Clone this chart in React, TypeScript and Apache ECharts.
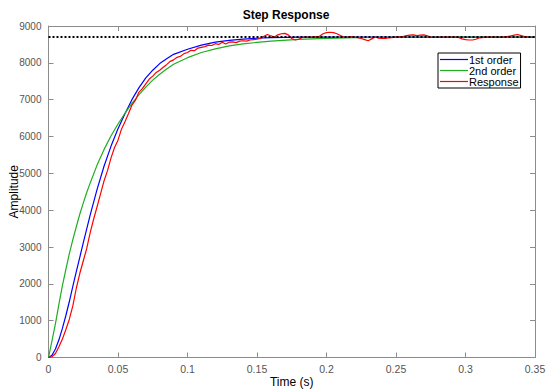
import React, { useEffect, useRef } from "react";
import * as echarts from "echarts";

const modelTime = [0, 0.0025, 0.005, 0.0075, 0.01, 0.0125, 0.015, 0.0175, 0.02, 0.0225, 0.025, 0.0275, 0.03, 0.035, 0.04, 0.045, 0.05, 0.055, 0.06, 0.065, 0.07, 0.075, 0.08, 0.085, 0.09, 0.1, 0.11, 0.12, 0.13, 0.14, 0.15, 0.16, 0.18, 0.2, 0.22, 0.25, 0.3, 0.35];
const firstOrder = [0, 60, 230, 480, 790, 1140, 1520, 1930, 2330, 2720, 3110, 3490, 3870, 4570, 5200, 5740, 6210, 6620, 7000, 7320, 7590, 7800, 7980, 8110, 8230, 8370, 8480, 8560, 8610, 8645, 8668, 8682, 8696, 8700, 8700, 8700, 8700, 8700];
const secondOrder = [0, 450, 920, 1450, 1950, 2390, 2820, 3200, 3550, 3890, 4190, 4480, 4740, 5230, 5650, 6020, 6340, 6630, 6900, 7130, 7340, 7530, 7690, 7830, 7960, 8140, 8280, 8380, 8460, 8515, 8555, 8590, 8635, 8665, 8682, 8694, 8699, 8700];

const respTime = [0, 0.0025, 0.005, 0.0075, 0.01, 0.0125, 0.015, 0.0175, 0.02, 0.0225, 0.025, 0.0275, 0.03, 0.0325, 0.035, 0.0375, 0.04, 0.0425, 0.045, 0.0475, 0.05, 0.0525, 0.055, 0.0575, 0.06, 0.0625, 0.065, 0.0675, 0.07, 0.0725, 0.075, 0.0775, 0.08, 0.0825, 0.085, 0.0875, 0.09, 0.0925, 0.095, 0.0975, 0.1, 0.1025, 0.105, 0.1075, 0.11, 0.1125, 0.115, 0.1175, 0.12, 0.1225, 0.125, 0.1275, 0.13, 0.1325, 0.135, 0.1375, 0.14, 0.1425, 0.145, 0.1475, 0.15, 0.1525, 0.155, 0.1575, 0.16, 0.1625, 0.165, 0.1675, 0.17, 0.1725, 0.175, 0.1775, 0.18, 0.1825, 0.185, 0.19, 0.195, 0.1975, 0.2, 0.2025, 0.205, 0.2075, 0.21, 0.2125, 0.215, 0.2175, 0.22, 0.2225, 0.225, 0.2275, 0.23, 0.2325, 0.235, 0.2375, 0.24, 0.2425, 0.245, 0.25, 0.255, 0.2575, 0.26, 0.2625, 0.265, 0.2675, 0.27, 0.2725, 0.275, 0.28, 0.285, 0.29, 0.295, 0.2975, 0.3, 0.3025, 0.305, 0.3075, 0.31, 0.315, 0.32, 0.325, 0.33, 0.335, 0.3375, 0.34, 0.3425, 0.345, 0.35];
const respValue = [0, 20, 110, 290, 500, 760, 1040, 1400, 1880, 2280, 2620, 2960, 3390, 3760, 4100, 4450, 4800, 5080, 5420, 5700, 5900, 6200, 6400, 6620, 6850, 6980, 7200, 7300, 7430, 7560, 7640, 7740, 7800, 7880, 7950, 8040, 8080, 8150, 8180, 8250, 8280, 8340, 8330, 8400, 8420, 8440, 8480, 8470, 8520, 8500, 8560, 8510, 8560, 8570, 8550, 8590, 8600, 8590, 8620, 8630, 8640, 8660, 8720, 8770, 8730, 8700, 8760, 8790, 8800, 8760, 8660, 8620, 8640, 8690, 8700, 8700, 8720, 8790, 8820, 8830, 8820, 8790, 8740, 8700, 8690, 8710, 8700, 8680, 8660, 8630, 8600, 8650, 8700, 8670, 8660, 8660, 8680, 8700, 8710, 8740, 8750, 8760, 8740, 8750, 8760, 8730, 8700, 8690, 8700, 8700, 8690, 8650, 8630, 8620, 8620, 8640, 8680, 8700, 8700, 8690, 8710, 8750, 8770, 8740, 8710, 8700, 8690];

const finalTime = [0, 0.35];
const finalValue = [8700, 8700];

const seriesNames = ["1st order", "2nd order", "Response"];
const FONT = "'Liberation Sans', Arial, sans-serif";
const LINE_ICON = "path://M0,0H28V1.2H0Z";

const zip = (xs: number[], ys: number[]) => xs.map((x, i) => [x, ys[i]]);

export default function App() {
  const ref = useRef<HTMLDivElement>(null);
  useEffect(() => {
    if (!ref.current) return;
    const chart = echarts.init(ref.current, undefined, { renderer: "svg" });
    const axisColor = "#8c8c8c";
    const labelColor = "#555555";
    const baseX = {
      type: "value" as const,
      min: 0,
      max: 0.35,
      interval: 0.05,
      splitLine: { show: false },
      axisLine: { show: true, onZero: false, lineStyle: { color: axisColor, width: 1 } },
      axisTick: { show: true, inside: true, length: 5, lineStyle: { color: axisColor } },
    };
    const baseY = {
      type: "value" as const,
      min: 0,
      max: 9000,
      interval: 1000,
      splitLine: { show: false },
      axisLine: { show: true, onZero: false, lineStyle: { color: axisColor, width: 1 } },
      axisTick: { show: true, inside: true, length: 5, lineStyle: { color: axisColor } },
    };
    chart.setOption({
      animation: false,
      backgroundColor: "#ffffff",
      textStyle: { fontFamily: FONT },
      title: {
        text: "Step Response",
        left: 281,
        top: 4,
        textAlign: "center",
        textStyle: { fontFamily: FONT, fontSize: 12, fontWeight: "bold", color: "#000" },
      },
      grid: { left: 48.5, right: 15, top: 26, bottom: 33.5, containLabel: false, outerBoundsMode: "none" },
      legend: {
        data: seriesNames.map((n) => ({ name: n, icon: LINE_ICON })),
        orient: "vertical",
        left: 438,
        top: 53,
        itemGap: 0,
        itemWidth: 28,
        itemHeight: 11,
        padding: [1, 2, 1, 2],
        backgroundColor: "#ffffff",
        borderColor: "#000000",
        borderWidth: 1,
        borderRadius: 0,
        textStyle: { fontFamily: FONT, fontSize: 11, color: "#000", padding: [0, 0, 0, -4] },
      },
      xAxis: [
        {
          ...baseX,
          position: "bottom",
          name: "Time (s)",
          nameLocation: "middle",
          nameGap: 18,
          nameMoveOverlap: false,
          nameTextStyle: { fontFamily: FONT, fontSize: 12, color: "#000" },
          axisLabel: { color: labelColor, fontSize: 10.5, fontFamily: FONT, margin: 6, formatter: (v: number) => String(+v.toFixed(4)) },
        },
        { ...baseX, position: "top", axisLabel: { show: false } },
      ],
      yAxis: [
        {
          ...baseY,
          position: "left",
          name: "Amplitude",
          nameLocation: "middle",
          nameGap: 29,
          nameMoveOverlap: false,
          nameTextStyle: { fontFamily: FONT, fontSize: 12, color: "#000" },
          axisLabel: { color: labelColor, fontSize: 10, fontFamily: FONT, margin: 7, formatter: (v: number) => String(v) },
        },
        { ...baseY, position: "right", axisLabel: { show: false } },
      ],
      series: [
        {
          name: "final",
          type: "line",
          data: zip(finalTime, finalValue),
          showSymbol: false,
          symbol: "none",
          lineStyle: { color: "#000", width: 2, type: [2, 2] },
          z: 5,
        },
        {
          name: seriesNames[0],
          type: "line",
          data: zip(modelTime, firstOrder),
          showSymbol: false,
          symbol: "none",
          lineStyle: { color: "#0000ff", width: 1.2 },
          itemStyle: { color: "#0000ff" },
          z: 3,
        },
        {
          name: seriesNames[1],
          type: "line",
          data: zip(modelTime, secondOrder),
          showSymbol: false,
          symbol: "none",
          lineStyle: { color: "#1fae1f", width: 1.2 },
          itemStyle: { color: "#1fae1f" },
          z: 3,
        },
        {
          name: seriesNames[2],
          type: "line",
          data: zip(respTime, respValue),
          showSymbol: false,
          symbol: "none",
          lineStyle: { color: "#ff0000", width: 1.2 },
          itemStyle: { color: "#ff0000" },
          z: 4,
        },
      ],
    });
    return () => chart.dispose();
  }, []);
  return (
    <div
      ref={ref}
      style={{ position: "fixed", left: 0, top: 0, width: 550, height: 391 }}
    />
  );
}
